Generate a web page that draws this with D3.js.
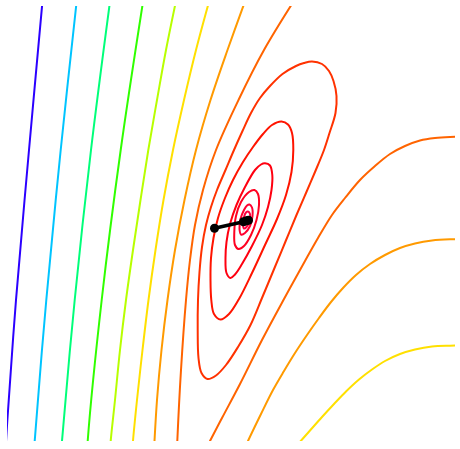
<!DOCTYPE html>
<html>
<head>
<meta charset="utf-8">
<script src="https://cdn.jsdelivr.net/npm/d3@7"></script>
<style>
  html, body { margin: 0; padding: 0; background: #ffffff; }
  svg { display: block; }
</style>
</head>
<body>
<svg id="chart" width="460" height="449"></svg>
<script>
// ---- Data (parameter space units) ----
const xDomain = [0, 4.48];
const yDomain = [0, 4.35];

// contour level colours, low -> high
const levelColors = ["#2b00ff", "#00c4ff", "#00ff7a", "#30ff00", "#b8ff00", "#ffe000",
                     "#ff9a00", "#ff6400", "#ff3200", "#ff1400", "#ff0010", "#ff0020", "#ff0030", "#ff0040"];

// open contour branches [x, y]
const level0 = [[0.356,4.41],[0.22,2.91],[0.09,1.41],[0.003,0.20],[-0.012,-0.04]];
const level1 = [[0.698,4.41],[0.537,2.91],[0.393,1.41],[0.277,0],[0.274,-0.08]];
const level2 = [[1.032,4.41],[0.84,2.91],[0.677,1.41],[0.55,0],[0.546,-0.08]];
const level3 = [[1.363,4.41],[1.137,2.91],[0.947,1.41],[0.807,0],[0.803,-0.08]];
const level4 = [[1.692,4.41],[1.59,3.91],[1.50,3.41],[1.413,2.91],[1.335,2.41],[1.26,1.91],[1.19,1.41],[1.13,0.91],[1.08,0.41],[1.037,0],[1.033,-0.08]];
const level5a = [[2.025,4.41],[1.89,3.91],[1.77,3.41],[1.66,2.91],[1.565,2.41],[1.485,1.91],[1.415,1.41],[1.355,0.91],[1.30,0.41],[1.26,0],[1.256,-0.08]];
const level5b = [[4.55,0.955],[4.43,0.953],[4.25,0.945],[4.08,0.915],[3.93,0.87],[3.78,0.80],[3.65,0.715],[3.52,0.615],[3.39,0.495],[3.27,0.37],[3.15,0.24],[3.03,0.105],[2.91,-0.03],[2.86,-0.08]];
const level6a = [[2.385,4.41],[2.205,3.91],[2.035,3.41],[1.89,2.91],[1.775,2.41],[1.68,1.91],[1.605,1.41],[1.545,0.91],[1.50,0.41],[1.475,0],[1.471,-0.08]];
const level6b = [[4.55,2.018],[4.43,2.017],[4.25,2.005],[4.08,1.975],[3.93,1.93],[3.78,1.86],[3.63,1.77],[3.49,1.66],[3.36,1.53],[3.24,1.39],[3.12,1.23],[3.00,1.06],[2.88,0.88],[2.77,0.70],[2.66,0.51],[2.54,0.27],[2.41,0],[2.38,-0.07]];
const level7a = [[2.875,4.41],[2.57,3.91],[2.315,3.41],[2.09,2.91],[1.96,2.51],[1.88,2.16],[1.83,1.81],[1.79,1.41],[1.74,0.71],[1.703,0],[1.70,-0.08]];
const level7b = [[4.55,3.042],[4.43,3.04],[4.28,3.03],[4.13,3.005],[3.98,2.95],[3.83,2.87],[3.68,2.75],[3.53,2.61],[3.38,2.43],[3.25,2.26],[3.11,2.03],[2.98,1.80],[2.77,1.42],[2.55,1.01],[2.33,0.57],[2.15,0.23],[2.03,0],[1.99,-0.08]];

// closed contours around the optimum
const level8 = [[3.05,3.795],[3.15,3.77],[3.22,3.70],[3.265,3.60],[3.295,3.45],[3.285,3.28],[3.225,3.08],[3.17,2.91],[3.08,2.69],[2.99,2.48],[2.895,2.26],[2.785,1.995],[2.675,1.73],[2.55,1.43],[2.435,1.16],[2.31,0.94],[2.19,0.76],[2.09,0.655],[2.005,0.62],[1.945,0.68],[1.915,0.83],[1.907,1.11],[1.91,1.41],[1.925,1.69],[1.95,1.94],[1.99,2.16],[2.04,2.34],[2.10,2.51],[2.185,2.71],[2.27,2.91],[2.355,3.10],[2.44,3.28],[2.53,3.43],[2.63,3.55],[2.755,3.67],[2.89,3.75],[2.97,3.78]];
const level9 = [[2.745,3.195],[2.81,3.165],[2.85,3.08],[2.863,2.91],[2.845,2.69],[2.79,2.46],[2.70,2.22],[2.58,1.96],[2.45,1.68],[2.32,1.42],[2.22,1.27],[2.135,1.215],[2.07,1.27],[2.043,1.41],[2.035,1.61],[2.04,1.83],[2.065,2.03],[2.11,2.23],[2.18,2.43],[2.26,2.61],[2.36,2.79],[2.46,2.94],[2.56,3.07],[2.65,3.16]];
const level10 = [[2.58,2.777],[2.63,2.755],[2.653,2.66],[2.645,2.51],[2.61,2.34],[2.55,2.16],[2.45,1.95],[2.35,1.77],[2.28,1.665],[2.235,1.63],[2.195,1.68],[2.185,1.83],[2.195,1.99],[2.23,2.17],[2.295,2.36],[2.38,2.54],[2.48,2.71],[2.54,2.765]];
const level11 = [[2.475,2.51],[2.51,2.47],[2.52,2.36],[2.495,2.21],[2.44,2.06],[2.37,1.95],[2.315,1.92],[2.28,1.96],[2.273,2.09],[2.29,2.25],[2.34,2.39],[2.42,2.49]];
const level12 = [[2.425,2.365],[2.45,2.335],[2.455,2.25],[2.43,2.15],[2.38,2.08],[2.34,2.065],[2.325,2.12],[2.335,2.22],[2.37,2.31],[2.40,2.355]];
const level13 = [[2.41,2.295],[2.43,2.27],[2.425,2.20],[2.395,2.14],[2.37,2.125],[2.36,2.16],[2.37,2.24],[2.39,2.285]];

// optimisation path
const pathPoints = [[2.075,2.127],[2.365,2.192],[2.395,2.202],[2.415,2.208]];

const openSeries = [
  {level: 0, pts: level0}, {level: 1, pts: level1}, {level: 2, pts: level2},
  {level: 3, pts: level3}, {level: 4, pts: level4}, {level: 5, pts: level5a},
  {level: 5, pts: level5b}, {level: 6, pts: level6a}, {level: 6, pts: level6b},
  {level: 7, pts: level7a}, {level: 7, pts: level7b}
];
const closedSeries = [
  {level: 8, pts: level8}, {level: 9, pts: level9}, {level: 10, pts: level10},
  {level: 11, pts: level11}, {level: 12, pts: level12}, {level: 13, pts: level13}
];

// ---- Drawing ----
const svg = d3.select("#chart");
const plot = {left: 7, right: 455, top: 6, bottom: 441};

const x = d3.scaleLinear().domain(xDomain).range([plot.left, plot.right]);
const y = d3.scaleLinear().domain(yDomain).range([plot.bottom, plot.top]);

svg.append("defs").append("clipPath").attr("id", "clip")
  .append("rect")
  .attr("x", plot.left).attr("y", plot.top)
  .attr("width", plot.right - plot.left).attr("height", plot.bottom - plot.top);

const g = svg.append("g").attr("clip-path", "url(#clip)");

const openLine = d3.line().x(d => x(d[0])).y(d => y(d[1])).curve(d3.curveCatmullRom.alpha(0.5));
const closedLine = d3.line().x(d => x(d[0])).y(d => y(d[1])).curve(d3.curveCatmullRomClosed.alpha(0.5));

g.selectAll("path.open").data(openSeries).join("path")
  .attr("class", "open")
  .attr("d", d => openLine(d.pts))
  .attr("fill", "none")
  .attr("stroke", d => levelColors[d.level])
  .attr("stroke-width", 2);

g.selectAll("path.closed").data(closedSeries).join("path")
  .attr("class", "closed")
  .attr("d", d => closedLine(d.pts))
  .attr("fill", "none")
  .attr("stroke", d => levelColors[d.level])
  .attr("stroke-width", 2);

const straight = d3.line().x(d => x(d[0])).y(d => y(d[1]));
svg.append("path")
  .attr("d", straight(pathPoints))
  .attr("fill", "none")
  .attr("stroke", "#000")
  .attr("stroke-width", 3.5);

svg.selectAll("circle.step").data(pathPoints).join("circle")
  .attr("class", "step")
  .attr("cx", d => x(d[0]))
  .attr("cy", d => y(d[1]))
  .attr("r", 4.5)
  .attr("fill", "#000");
</script>
</body>
</html>
